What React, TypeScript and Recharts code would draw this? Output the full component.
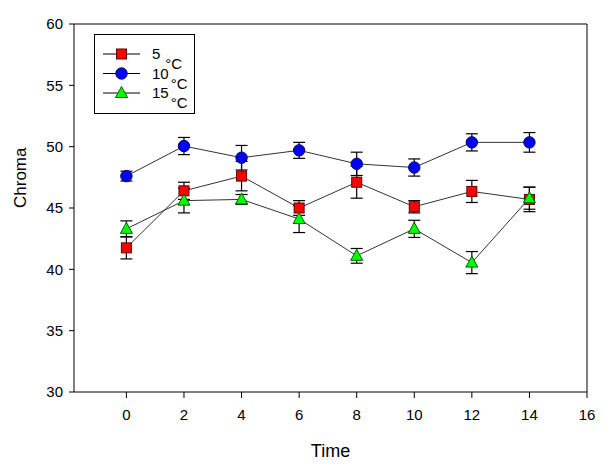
import React from "react";
import {
  LineChart,
  Line,
  XAxis,
  YAxis,
  ErrorBar,
  ReferenceLine,
} from "recharts";

const times = [0, 2, 4, 6, 8, 10, 12, 14];
const chroma5 = [41.75, 46.4, 47.6, 45.0, 47.1, 45.1, 46.35, 45.7];
const err5 = [0.9, 0.7, 1.2, 0.6, 1.3, 0.5, 0.9, 1.0];
const chroma10 = [47.6, 50.05, 49.1, 49.7, 48.6, 48.3, 50.35, 50.35];
const err10 = [0.4, 0.7, 1.0, 0.65, 0.95, 0.7, 0.7, 0.8];
const chroma15 = [43.3, 45.6, 45.7, 44.1, 41.1, 43.3, 40.55, 45.8];
const err15 = [0.65, 1.0, 0.4, 1.1, 0.6, 0.7, 0.9, 0.9];

const xTicks = [0, 2, 4, 6, 8, 10, 12, 14, 16];
const yTicks = [30, 35, 40, 45, 50, 55, 60];
const legendLabels = ["5", "10", "15"];

const rows = times.map((t, i) => ({
  time: t,
  c5: chroma5[i],
  e5: err5[i],
  c10: chroma10[i],
  e10: err10[i],
  c15: chroma15[i],
  e15: err15[i],
}));

const font = "Arial, 'Liberation Sans', sans-serif";

function Square({ cx, cy }: any) {
  return <rect x={cx - 5} y={cy - 5} width={10} height={10} fill="#ff0000" stroke="#600000" strokeWidth={1} />;
}

function Circle({ cx, cy }: any) {
  return <circle cx={cx} cy={cy} r={5.7} fill="#0000ff" stroke="#000060" strokeWidth={1} />;
}

function Triangle({ cx, cy }: any) {
  const p = `${cx},${cy - 6.5} ${cx + 6},${cy + 4.5} ${cx - 6},${cy + 4.5}`;
  return <polygon points={p} fill="#00ff00" stroke="#006000" strokeWidth={1} />;
}

const markers = [Square, Circle, Triangle];

function LegendBox() {
  return (
    <svg width={102} height={81} style={{ position: "absolute", left: 94, top: 34 }}>
      <rect x={0.5} y={0.5} width={100} height={79} fill="#fff" stroke="#000" />
      {legendLabels.map((lab, i) => {
        const y = 20 + i * 19.5;
        const M = markers[i];
        return (
          <g key={lab}>
            <line x1={9} x2={46} y1={y} y2={y} stroke="#000" />
            <M cx={27.5} cy={y} />
            <text x={58} y={y + 5} fontFamily={font} fontSize={15} fill="#000">
              {lab}
              <tspan dx={lab.length === 1 ? 5 : 2} dy={10} fontSize={15}>
                °C
              </tspan>
            </text>
          </g>
        );
      })}
    </svg>
  );
}

export default function App() {
  return (
    <div style={{ position: "absolute", left: 0, top: 0, width: 613, height: 470, background: "#fff" }}>
      <LineChart
        width={613}
        height={470}
        data={rows}
        margin={{ top: 24, right: 26, left: 0, bottom: 0 }}
      >
        <XAxis
          dataKey="time"
          type="number"
          domain={[-1.82, 16]}
          ticks={xTicks}
          allowDataOverflow
          height={78}
          tickSize={6}
          stroke="#000"
          tick={{ fill: "#000", fontSize: 15, fontFamily: font }}
          tickMargin={11}
          label={{ value: "Time", position: "insideBottom", offset: 13, fill: "#000", fontSize: 18, fontFamily: font }}
        />
        <YAxis
          type="number"
          domain={[30, 60]}
          ticks={yTicks}
          width={74}
          tickSize={5}
          stroke="#000"
          tick={{ fill: "#000", fontSize: 15, fontFamily: font }}
          tickMargin={6}
          label={{ value: "Chroma", angle: -90, position: "insideLeft", offset: 20, fill: "#000", fontSize: 17, fontFamily: font }}
        />
        <ReferenceLine y={60} stroke="#000" />
        <ReferenceLine x={16} stroke="#000" />
        <Line
          dataKey="c5"
          stroke="#333"
          strokeWidth={1}
          dot={<Square />}
          isAnimationActive={false}
        >
          <ErrorBar dataKey="e5" direction="y" width={6} stroke="#000" strokeWidth={1.2} />
        </Line>
        <Line
          dataKey="c10"
          stroke="#333"
          strokeWidth={1}
          dot={<Circle />}
          isAnimationActive={false}
        >
          <ErrorBar dataKey="e10" direction="y" width={6} stroke="#000" strokeWidth={1.2} />
        </Line>
        <Line
          dataKey="c15"
          stroke="#333"
          strokeWidth={1}
          dot={<Triangle />}
          isAnimationActive={false}
        >
          <ErrorBar dataKey="e15" direction="y" width={6} stroke="#000" strokeWidth={1.2} />
        </Line>
      </LineChart>
      <LegendBox />
    </div>
  );
}
